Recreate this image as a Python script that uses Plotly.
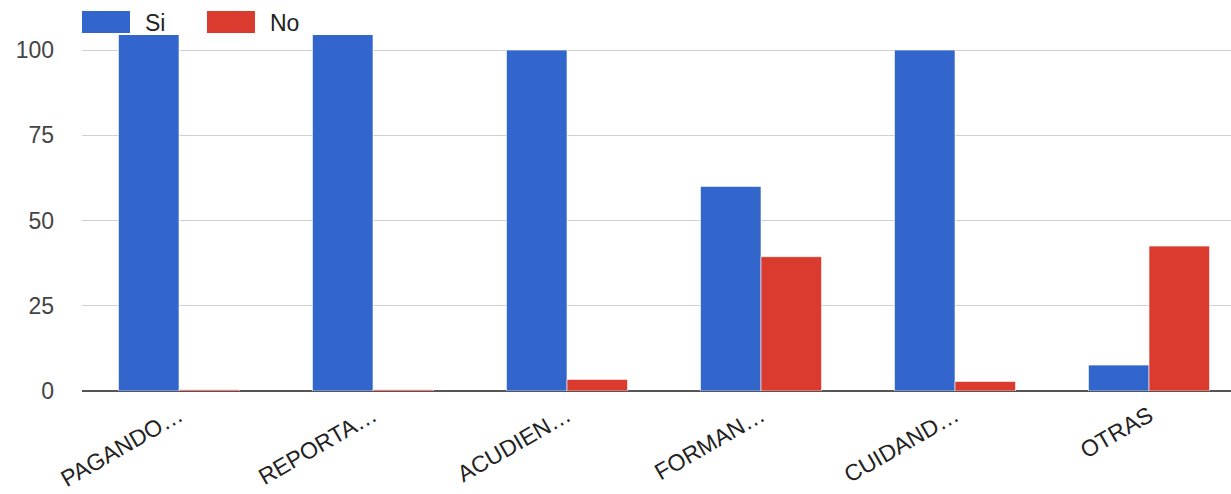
import plotly.graph_objects as go

categories = ["PAGANDO…", "REPORTA…", "ACUDIEN…", "FORMAN…", "CUIDAND…", "OTRAS"]
si_values = [105, 105, 100, 60, 100, 7.6]
no_values = [0.4, 0.4, 3.4, 39.4, 2.8, 42.5]
series_names = ["Si", "No"]
y_ticks = [0, 25, 50, 75, 100]

BLUE = "#3366cc"
RED = "#db3a2f"
FONT = "Liberation Sans, Arial, sans-serif"

fig = go.Figure()
fig.add_trace(go.Bar(x=categories, y=si_values, name=series_names[0],
                     marker=dict(color=BLUE, line=dict(color="rgba(255,255,255,0.6)", width=1))))
fig.add_trace(go.Bar(x=categories, y=no_values, name=series_names[1],
                     marker=dict(color=RED, line=dict(color="rgba(255,255,255,0.6)", width=1))))

W, H = 1231, 494
L, R, T, B = 82, 0, 35, 103
pw = W - L - R
ph = H - T - B

fig.update_layout(
    width=W, height=H,
    margin=dict(l=L, r=R, t=T, b=B, pad=0),
    paper_bgcolor="white", plot_bgcolor="white",
    barmode="group", bargap=0.376, bargroupgap=0.0,
    showlegend=False,
    font=dict(family=FONT, size=23, color="#444444"),
)
fig.update_xaxes(
    range=[-0.5, -0.5 + pw / 194.0],
    tickangle=-30, showgrid=False, ticks="", showline=False, zeroline=False,
    tickfont=dict(family=FONT, size=23, color="#222222"),
    ticklabelshift=0, ticklabelstandoff=6,
)
fig.update_yaxes(
    range=[0, ph / 3.41],
    tickvals=y_ticks, ticktext=[str(v) for v in y_ticks],
    showgrid=True, gridcolor="#d0d0d0", gridwidth=1,
    zeroline=True, zerolinecolor="#555555", zerolinewidth=2,
    showline=False, ticks="", ticklabelstandoff=27,
    tickfont=dict(family=FONT, size=23, color="#444444"),
)

# legend drawn as swatches + text above the plot
def px_x(p):
    return (p - L) / pw

def px_y(p):
    return (H - B - p) / ph

legend_items = [(series_names[0], BLUE, 82, 143), (series_names[1], RED, 207, 268)]
for name, col, sx, tx in legend_items:
    fig.add_shape(type="rect", xref="paper", yref="paper",
                  x0=px_x(sx), x1=px_x(sx + 48), y0=px_y(33), y1=px_y(11),
                  fillcolor=col, line=dict(width=0), layer="above")
    fig.add_annotation(text=name, xref="paper", yref="paper",
                       x=px_x(tx), y=px_y(23), xanchor="left", yanchor="middle",
                       showarrow=False, font=dict(family=FONT, size=23, color="#222222"))

fig.write_html("out.html")
